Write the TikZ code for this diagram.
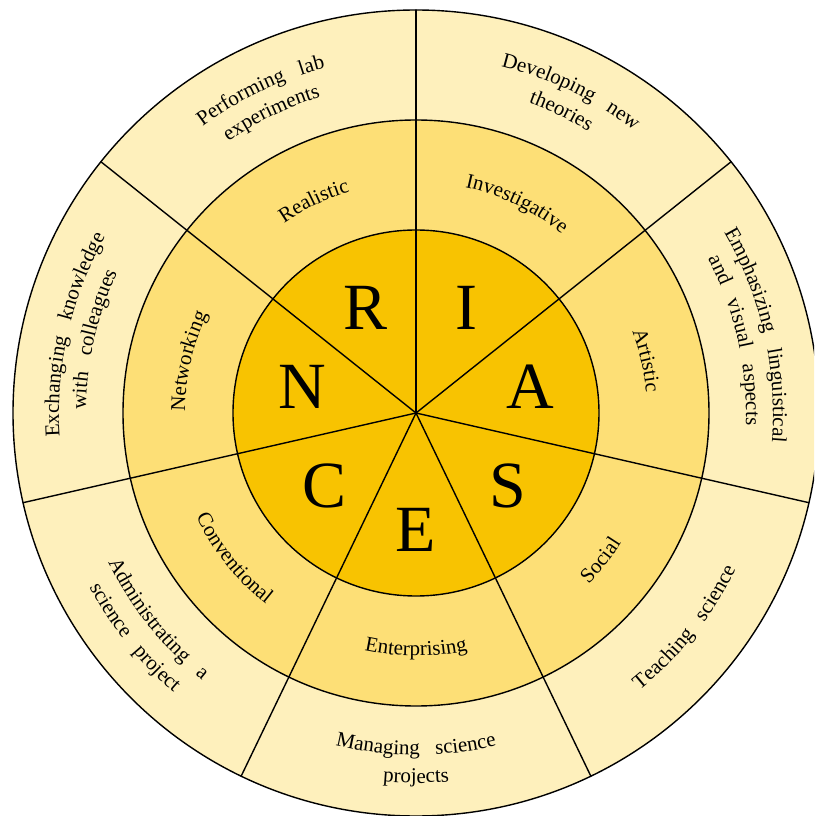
\documentclass[tikz,border=0pt]{standalone}
\usepackage{fontspec}
\setmainfont{Liberation Serif}
\newfontfamily\spacedfont[LetterSpace=19,WordSpace=1.7]{Liberation Serif}
\usetikzlibrary{calc,decorations.text}
\definecolor{ringout}{HTML}{FEF0BC}
\definecolor{ringmid}{HTML}{FDDF76}
\definecolor{ringin}{HTML}{F8C301}
% text bent along the rings: clockwise on the top half, anticlockwise below
\newcommand{\toparc}[3]{%
    \pgfmathsetmacro{\sa}{#1+45}\pgfmathsetmacro{\ea}{#1-45}%
    \path [decorate,decoration={text along path,text align=center,
        text={|\spacedfont\fontsize{21}{21}\selectfont|#3}}]
        (\sa:#2) arc [start angle=\sa,end angle=\ea,radius=#2];}
\newcommand{\botarc}[3]{%
    \pgfmathsetmacro{\sa}{#1-45}\pgfmathsetmacro{\ea}{#1+45}%
    \path [decorate,decoration={text along path,text align=center,
        text={|\spacedfont\fontsize{21}{21}\selectfont|#3}}]
        (\sa:#2) arc [start angle=\sa,end angle=\ea,radius=#2];}

\begin{document}
\begin{tikzpicture}[line cap=round,line join=round,x=1pt,y=1pt,
    ring/.style={line width=1.4pt,draw=black},
    biglabel/.style={font=\fontsize{66}{66}\selectfont}]
    \useasboundingbox (-416,-403) rectangle (398,413);
    \begin{scope}
        \clip (-416,-403) rectangle (398,413);
        % three rings
        \draw [ring,fill=ringout] (0,0) circle (403);
        \draw [ring,fill=ringmid] (0,0) circle (293);
        \draw [ring,fill=ringin] (0,0) circle (183);
        % seven dividers
        \coordinate (c) at (0,0);
        \foreach \d in {90,141.43,192.86,244.29,295.71,347.14,38.57}
            \draw [line width=1.4pt] (c) -- (\d:403);
    \end{scope}
    % letters
    \foreach \a/\ltr in {115.71/R,64.29/I,12.86/A,321.43/S,270/E,218.57/C,167.14/N}
        \node [biglabel] (let-\ltr) at (\a:117) {\ltr};
    % types
    \toparc{115.71}{231}{Realistic}
    \toparc{64.29}{231}{Investigative}
    \toparc{12.86}{231}{Artistic}
    \toparc{167.14}{231}{Networking}
    \botarc{321.43}{243}{Social}
    \botarc{270}{243}{Enterprising}
    \botarc{218.57}{243}{Conventional}
    % tasks
    \toparc{115.71}{357}{Performing lab}
    \toparc{115.71}{330}{experiments}
    \toparc{64.29}{357}{Developing new}
    \toparc{64.29}{330}{theories}
    \toparc{12.86}{357}{Emphasizing linguistical}
    \toparc{12.86}{330}{and visual aspects}
    \toparc{167.14}{357}{Exchanging knowledge}
    \toparc{167.14}{330}{with colleagues}
    \botarc{321.43}{356}{Teaching science}
    \botarc{270}{342}{Managing science}
    \botarc{270}{370}{projects}
    \botarc{218.57}{342}{Administrating a}
    \botarc{218.57}{370}{science project}
\end{tikzpicture}
\end{document}
